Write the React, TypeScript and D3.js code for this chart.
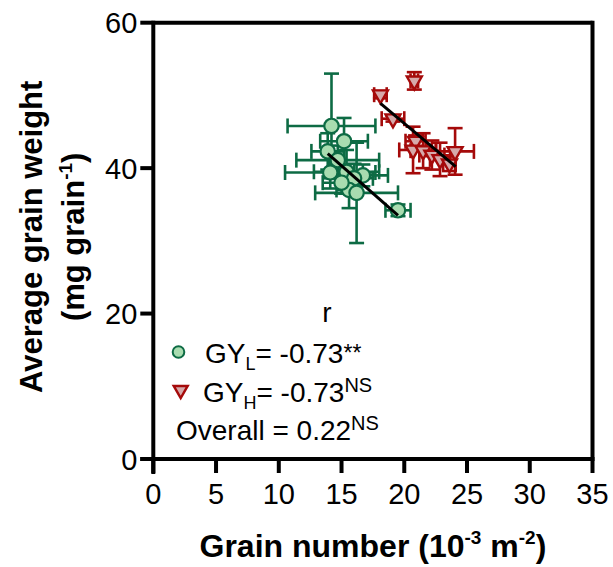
import React from "react";
import * as d3 from "d3";

// Green group (GY_L): grain number, grain weight, x error, y error
const greenX = [14.2, 15.2, 13.9, 14.7, 14.1, 15.4, 16.7, 16.0, 15.6, 16.2, 19.5, 15.0];
const greenY = [45.8, 43.7, 42.3, 41.1, 39.4, 39.5, 39.0, 38.6, 37.0, 36.6, 34.2, 38.0];
const greenXErr = [3.5, 1.9, 1.3, 3.3, 3.6, 2.6, 2.0, 1.5, 1.0, 3.3, 1.0, 1.5];
const greenYErr = [7.2, 3.2, 2.5, 2.0, 2.2, 3.0, 1.5, 2.0, 2.5, 6.9, 0.8, 1.5];

// Red group (GY_H)
const redX = [18.1, 20.8, 19.1, 20.9, 20.7, 21.5, 22.2, 22.85, 23.6, 24.05];
const redY = [50.1, 52.0, 46.8, 43.7, 42.5, 42.4, 41.8, 41.2, 40.6, 42.3];
const redXErr = [0.5, 0.3, 0.9, 0.8, 1.1, 1.0, 1.0, 0.8, 0.5, 1.5];
const redYErr = [0.5, 1.2, 0.4, 0.8, 3.2, 2.4, 2.0, 2.3, 1.0, 3.2];

// Regression lines (endpoints)
const greenFitX = [13.9, 19.5];
const greenFitY = [42.0, 33.5];
const redFitX = [18.1, 24.1];
const redFitY = [48.9, 40.2];

const xTicks = [0, 5, 10, 15, 20, 25, 30, 35];
const yTicks = [0, 20, 40, 60];

const FONT = "'Liberation Sans', Arial, Helvetica, sans-serif";
const GREEN_STROKE = "#0d6b44";
const GREEN_FILL = "#a9dcb0";
const RED_STROKE = "#a50a0a";
const RED_FILL = "#d6a9aa";

export default function App() {
  const left = 153.3, right = 592.5, top = 22.7, bottom = 459;
  const x = d3.scaleLinear().domain([0, 35]).range([left, right]);
  const y = d3.scaleLinear().domain([0, 60]).range([bottom, top]);
  const cap = 7.5;
  const line = d3.line<[number, number]>().x((d) => x(d[0])).y((d) => y(d[1]));

  const errBars = (xs: number[], ys: number[], xe: number[], ye: number[], color: string, key: string) =>
    xs.map((v, i) => {
      const cx = x(v), cy = y(ys[i]);
      const x0 = x(v - xe[i]), x1 = x(v + xe[i]);
      const y0 = y(ys[i] - ye[i]), y1 = y(ys[i] + ye[i]);
      return (
        <g key={key + i} stroke={color} strokeWidth={2.6} fill="none">
          <line x1={x0} x2={x1} y1={cy} y2={cy} />
          <line x1={x0} x2={x0} y1={cy - cap} y2={cy + cap} />
          <line x1={x1} x2={x1} y1={cy - cap} y2={cy + cap} />
          <line x1={cx} x2={cx} y1={y0} y2={y1} />
          <line x1={cx - cap} x2={cx + cap} y1={y0} y2={y0} />
          <line x1={cx - cap} x2={cx + cap} y1={y1} y2={y1} />
        </g>
      );
    });

  const tri = (cx: number, cy: number, s: number) => {
    const h = s * 0.866;
    return `M${cx - s / 2},${cy - h / 3} L${cx + s / 2},${cy - h / 3} L${cx},${cy + (2 * h) / 3} Z`;
  };

  return (
    <svg width={613} height={567} style={{ position: "absolute", left: 0, top: 0, background: "#fff" }} fontFamily={FONT}>
      {/* error bars and markers */}
      {errBars(greenX, greenY, greenXErr, greenYErr, GREEN_STROKE, "ge")}
      {greenX.map((v, i) => (
        <circle key={"gc" + i} cx={x(v)} cy={y(greenY[i])} r={7.2} fill={GREEN_FILL} stroke={GREEN_STROKE} strokeWidth={2.2} />
      ))}
      {errBars(redX, redY, redXErr, redYErr, RED_STROKE, "re")}
      {redX.map((v, i) => (
        <path key={"rt" + i} d={tri(x(v), y(redY[i]), 15)} fill={RED_FILL} stroke={RED_STROKE} strokeWidth={2.4} strokeLinejoin="miter" />
      ))}
      {/* fit lines */}
      <path d={line(greenFitX.map((v, i) => [v, greenFitY[i]]) as any) || ""} stroke="#000" strokeWidth={3} fill="none" />
      <path d={line(redFitX.map((v, i) => [v, redFitY[i]]) as any) || ""} stroke="#000" strokeWidth={3} fill="none" />

      {/* frame */}
      <line x1={left} x2={right} y1={top} y2={top} stroke="#000" strokeWidth={4} />
      <line x1={right} x2={right} y1={top - 2} y2={bottom} stroke="#000" strokeWidth={4} />
      <line x1={left} x2={left} y1={top - 2} y2={bottom + 15} stroke="#000" strokeWidth={4} />
      <line x1={left - 13} x2={right + 2} y1={bottom} y2={bottom} stroke="#000" strokeWidth={4} />

      {/* y ticks */}
      {yTicks.map((t) => (
        <g key={"yt" + t}>
          <line x1={left - 13} x2={left} y1={y(t)} y2={y(t)} stroke="#000" strokeWidth={4} />
          <text x={left - 16} y={y(t) + 10.5} fontSize={29} textAnchor="end" fill="#000">{t}</text>
        </g>
      ))}
      {/* x ticks */}
      {xTicks.map((t) => (
        <g key={"xt" + t}>
          <line x1={x(t)} x2={x(t)} y1={bottom} y2={bottom + 14} stroke="#000" strokeWidth={4} />
          <text x={x(t)} y={504} fontSize={29} textAnchor="middle" fill="#000">{t}</text>
        </g>
      ))}

      {/* axis titles */}
      <text x={(left + right) / 2} y={557} fontSize={32} fontWeight="bold" textAnchor="middle" fill="#000">
        Grain number (10<tspan fontSize={19} dy={-13}>-3</tspan><tspan dy={13}> m</tspan><tspan fontSize={19} dy={-13}>-2</tspan><tspan dy={13}>)</tspan>
      </text>
      <g transform={`translate(42, ${(top + bottom) / 2 - 4}) rotate(-90)`}>
        <text x={0} y={0} fontSize={31} fontWeight="bold" textAnchor="middle" fill="#000">Average grain weight</text>
      </g>
      <g transform={`translate(84, ${(top + bottom) / 2 - 4}) rotate(-90)`}>
        <text x={0} y={0} fontSize={31} fontWeight="bold" textAnchor="middle" fill="#000">
          (mg grain<tspan fontSize={19} dy={-12}>-1</tspan><tspan dy={12}>)</tspan>
        </text>
      </g>

      {/* legend */}
      <text x={327} y={322} fontSize={28} textAnchor="middle" fill="#000">r</text>
      <circle cx={178.5} cy={352} r={5.8} fill={GREEN_FILL} stroke={GREEN_STROKE} strokeWidth={2} />
      <text x={205} y={363} fontSize={28} fill="#000">
        GY<tspan fontSize={18} dy={7}>L</tspan><tspan dy={-7}>= -0.73</tspan><tspan fontSize={23} dy={-2}>**</tspan>
      </text>
      <path d={tri(180.7, 390, 14)} fill={RED_FILL} stroke={RED_STROKE} strokeWidth={2.4} />
      <text x={203} y={402} fontSize={28} fill="#000">
        GY<tspan fontSize={18} dy={7}>H</tspan><tspan dy={-7}>= -0.73</tspan><tspan fontSize={20} dy={-10}>NS</tspan>
      </text>
      <text x={176} y={440} fontSize={28} fill="#000">
        Overall = 0.22<tspan fontSize={20} dy={-10}>NS</tspan>
      </text>
    </svg>
  );
}
